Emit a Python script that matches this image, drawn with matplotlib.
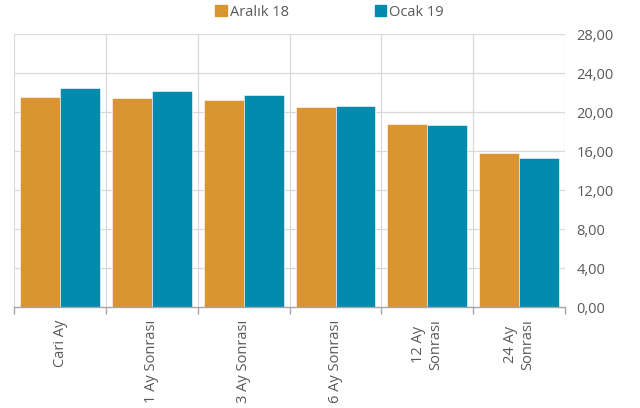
import numpy as np
import matplotlib.pyplot as plt
from matplotlib.patches import Patch

plt.rcParams['font.family'] = ['Open Sans', 'DejaVu Sans']

categories = ['Cari Ay', '1 Ay Sonrası', '3 Ay Sonrası', '6 Ay Sonrası', '12 Ay\nSonrası', '24 Ay\nSonrası']
aralik = [21.52, 21.47, 21.20, 20.48, 18.80, 15.76]
ocak = [22.44, 22.20, 21.80, 20.65, 18.67, 15.25]
series_names = ['Aralık 18', 'Ocak 19']
yticks = [0, 4, 8, 12, 16, 20, 24, 28]

c_orange = '#DA9432'
c_teal = '#008AAD'
grid_c = '#D9D9D9'
text_c = '#595959'

fig = plt.figure(figsize=(6.4, 4.08), dpi=100)
ax = fig.add_axes([0.022, 0.2475, 0.861, 0.669])

x = np.arange(len(categories))
w = 0.435
ax.bar(x - w / 2, aralik, w, color=c_orange, edgecolor='white', linewidth=0.4, zorder=3)
ax.bar(x + w / 2, ocak, w, color=c_teal, edgecolor='white', linewidth=0.4, zorder=3)

ax.set_xlim(-0.5, len(categories) - 0.5)
ax.set_ylim(0, 28)

# gridlines
for yv in yticks[1:]:
    ax.axhline(yv, color=grid_c, lw=0.9, zorder=1)
for xv in np.arange(-0.5, len(categories), 1.0):
    ax.axvline(xv, color=grid_c, lw=0.9, zorder=1)

ax.yaxis.tick_right()
ax.set_yticks(yticks)
ax.set_yticklabels([f'{v:.2f}'.replace('.', ',') for v in yticks], color=text_c, fontsize=10.5)
ax.tick_params(axis='y', length=0, pad=8)

ax.set_xticks(np.arange(-0.5, len(categories), 1.0), minor=False)
ax.set_xticklabels([])
ax.tick_params(axis='x', length=5, color='#A6A6A6', width=1, direction='out')
for i, lab in enumerate(categories):
    ax.text(i, -0.045, lab, transform=ax.get_xaxis_transform(), rotation=90,
            ha='center', va='top', multialignment='center', fontsize=10.5, color=text_c)

for s in ['top', 'left', 'right']:
    ax.spines[s].set_visible(False)
ax.spines['bottom'].set_color('#A6A6A6')
ax.spines['bottom'].set_linewidth(1)
ax.spines['bottom'].set_zorder(4)

handles = [Patch(color=c_orange), Patch(color=c_teal)]
fig.legend(handles, series_names, loc='center', bbox_to_anchor=(0.515, 0.97), ncol=2,
           frameon=False, fontsize=10.5, handlelength=0.8, handleheight=0.8,
           handletextpad=0.2, columnspacing=5.9, labelcolor=text_c)

fig.savefig('out.png', dpi=100)
